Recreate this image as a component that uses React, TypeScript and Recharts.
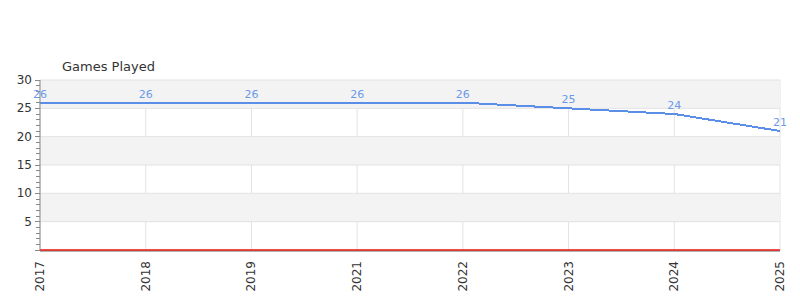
import { CartesianGrid, LabelList, Line, LineChart, ReferenceArea, ReferenceLine, XAxis, YAxis } from 'recharts'

const years = ['2017', '2018', '2019', '2021', '2022', '2023', '2024', '2025']
const gamesPlayed = [26, 26, 26, 26, 26, 25, 24, 21]
const baseline = [0, 0, 0, 0, 0, 0, 0, 0]
const yTicks = Array.from({ length: 31 }, (_, i) => i)
const gridLines = [5, 10, 15, 20, 25, 30]
const shadedBands: [number, number][] = [
  [5, 10],
  [15, 20],
  [25, 30],
]

const data = years.map((year, i) => ({
  year,
  games: gamesPlayed[i],
  zero: baseline[i],
}))

const font = '"DejaVu Sans", sans-serif'

const YTick = (props: any) => {
  const { x, y, payload } = props
  const v = payload.value as number
  const major = v % 5 === 0
  return (
    <g>
      <line x1={x - (major ? 5 : 4)} x2={x} y1={y} y2={y} stroke="#888" strokeWidth={1} shapeRendering="crispEdges" />
      {major && v !== 0 && (
        <text x={x - 8} y={y} dy={4} textAnchor="end" fontSize={12} fill="#333" fontFamily={font}>
          {v}
        </text>
      )}
    </g>
  )
}

const XTick = (props: any) => {
  const { x, y, payload } = props
  return (
    <text
      x={x}
      y={y}
      transform={`rotate(-90, ${x}, ${y})`}
      dx={-3}
      dy={4}
      textAnchor="end"
      fontSize={12}
      fill="#333"
      fontFamily={font}
    >
      {payload.value}
    </text>
  )
}

export default function App() {
  return (
    <div style={{ position: 'absolute', left: 0, top: 0, width: 800, height: 300, background: '#fff' }}>
      <div
        style={{
          position: 'absolute',
          left: 62,
          top: 59,
          fontFamily: font,
          fontSize: 13,
          color: '#333',
        }}
      >
        Games Played
      </div>
      <LineChart width={800} height={300} data={data} margin={{ top: 80, right: 20, left: 0, bottom: 0 }}>
        {shadedBands.map(([a, b]) => (
          <ReferenceArea key={a} y1={a} y2={b} fill="#f3f3f3" fillOpacity={1} stroke="none" ifOverflow="hidden" />
        ))}
        <CartesianGrid horizontal={false} stroke="#e2e2e2" />
        {gridLines.map((v) => (
          <ReferenceLine key={v} y={v} stroke="#e2e2e2" />
        ))}
        <ReferenceLine y={0} stroke="#666" strokeWidth={1} transform="translate(0, 1)" />
        <XAxis
          dataKey="year"
          interval={0}
          height={50}
          padding={{ left: 0, right: 0 }}
          axisLine={false}
          tickLine={false}
          tick={<XTick />}
        />
        <YAxis
          domain={[0, 30]}
          ticks={yTicks}
          interval={0}
          width={40}
          tickLine={false}
          tickSize={0}
          tickMargin={0}
          axisLine={{ stroke: '#888' }}
          tick={<YTick />}
        />
        <Line
          dataKey="zero"
          stroke="#e8120c"
          strokeWidth={1.5}
          dot={false}
          activeDot={false}
          isAnimationActive={false}
        />
        <Line
          dataKey="games"
          stroke="#5b8ee6"
          strokeWidth={2}
          dot={false}
          activeDot={false}
          shapeRendering="crispEdges"
          isAnimationActive={false}
        >
          <LabelList dataKey="games" position="top" offset={5} fill="#6b9ae8" fontSize={11} fontFamily={font} />
        </Line>
      </LineChart>
    </div>
  )
}
